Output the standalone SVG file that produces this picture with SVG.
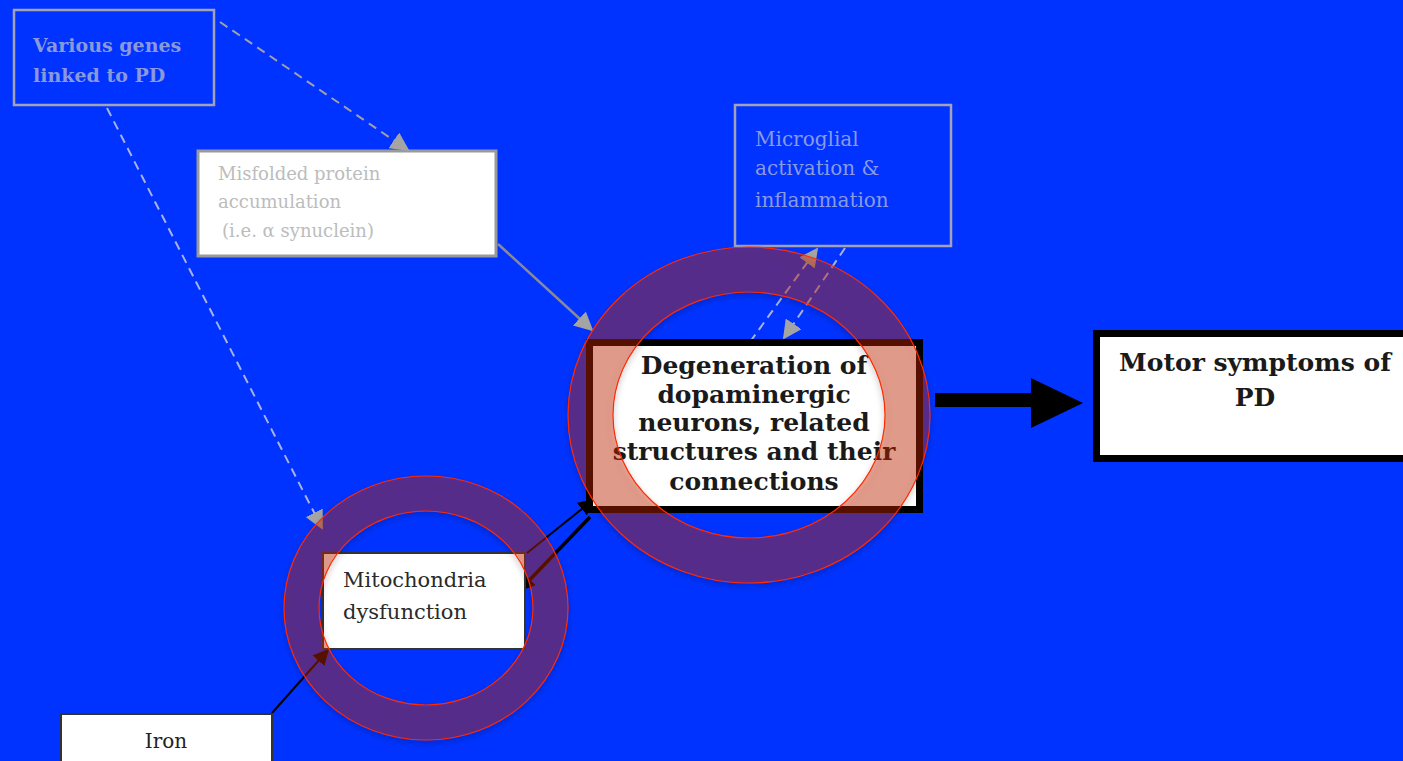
<svg xmlns="http://www.w3.org/2000/svg" width="1403" height="761" viewBox="0 0 1403 761">
<defs>
<style>
.t{font-family:"DejaVu Serif","Liberation Serif",serif}
.b{font-weight:bold}
.ring{fill:#ca2300;fill-opacity:0.38;fill-rule:evenodd;stroke:#ff2a00;stroke-width:1.2}
.dash{fill:none;stroke-dasharray:9 6;stroke-width:2}
</style>
<marker id="ag2" viewBox="0 0 10 10" refX="9" refY="5" markerWidth="19" markerHeight="19" orient="auto" markerUnits="userSpaceOnUse"><path d="M0,0L10,5L0,10z" fill="#a4a4a4"/></marker>
<marker id="ab" viewBox="0 0 10 10" refX="9" refY="5" markerWidth="16" markerHeight="16" orient="auto" markerUnits="userSpaceOnUse"><path d="M0,0L10,5L0,10z" fill="#000"/></marker>
<filter id="sh" x="-20%" y="-20%" width="140%" height="140%"><feGaussianBlur in="SourceAlpha" stdDeviation="3"/><feOffset dx="0" dy="3"/><feComponentTransfer><feFuncA type="linear" slope="0.35"/></feComponentTransfer><feMerge><feMergeNode/><feMergeNode in="SourceGraphic"/></feMerge></filter>
</defs>
<rect width="1403" height="761" fill="#0033ff"/>

<g id="genes">
<rect x="14" y="10" width="200" height="95" fill="none" stroke="#a2a2b8" stroke-width="2.5"/>
<text class="t b" x="33" y="52" font-size="19" fill="#8a98dc">Various genes</text>
<text class="t b" x="33" y="82" font-size="19" fill="#8a98dc">linked to PD</text>
</g>

<g id="misfolded">
<rect x="198" y="151" width="298" height="105" fill="#fff" stroke="#9a9a9a" stroke-width="3"/>
<text class="t" x="218" y="180" font-size="18" fill="#bcbcbc">Misfolded protein</text>
<text class="t" x="218" y="208" font-size="18" fill="#bcbcbc">accumulation</text>
<text class="t" x="222" y="237" font-size="18" fill="#bcbcbc">(i.e. α synuclein)</text>
</g>

<g id="microglial">
<rect x="735" y="105" width="216" height="141" fill="none" stroke="#a2a2b8" stroke-width="2.5"/>
<text class="t" x="755" y="146" font-size="20" fill="#8a9ae0">Microglial</text>
<text class="t" x="755" y="175" font-size="20" fill="#8a9ae0">activation &amp;</text>
<text class="t" x="755" y="207" font-size="20" fill="#8a9ae0">inflammation</text>
</g>

<g id="connectors">
<line x1="220" y1="22" x2="408" y2="150" stroke="#a0a0a8" class="dash" marker-end="url(#ag2)"/>
<line x1="107" y1="108" x2="322" y2="528" stroke="#a8b2e0" class="dash" marker-end="url(#ag2)"/>
<line x1="498" y1="244" x2="592" y2="330" stroke="#8a8a9a" stroke-width="2.5" marker-end="url(#ag2)"/>
<line x1="750" y1="342" x2="817" y2="249" stroke="#a8b2e0" class="dash" marker-end="url(#ag2)"/>
<line x1="845" y1="248" x2="784" y2="338" stroke="#a8b2e0" class="dash" marker-end="url(#ag2)"/>
<line x1="527" y1="553" x2="593" y2="500" stroke="#000" stroke-width="2" marker-end="url(#ab)"/>
<line x1="590" y1="517" x2="520" y2="590" stroke="#000" stroke-width="3.5" marker-end="url(#ab)"/>
<line x1="272" y1="713" x2="328" y2="650" stroke="#000" stroke-width="2" marker-end="url(#ab)"/>
<path d="M935,393H1031V378L1083,403L1031,428V407H935z" fill="#000"/>
</g>

<g id="degeneration">
<rect x="589.5" y="342.5" width="330" height="167" fill="#fff" stroke="#000" stroke-width="7"/>
<g class="t b" font-size="25" fill="#1a1a1a" text-anchor="middle">
<text x="754" y="374">Degeneration of</text>
<text x="754" y="403">dopaminergic</text>
<text x="754" y="431">neurons, related</text>
<text x="754" y="460">structures and their</text>
<text x="754" y="490">connections</text>
</g>
</g>

<g id="mitochondria">
<rect x="323" y="553" width="202" height="96" fill="#fff" stroke="#333" stroke-width="2"/>
<text class="t" x="343" y="587" font-size="21" fill="#2a2a2a">Mitochondria</text>
<text class="t" x="343" y="619" font-size="21" fill="#2a2a2a">dysfunction</text>
</g>

<g id="motor">
<rect x="1096.5" y="333.5" width="320" height="125" fill="#fff" stroke="#000" stroke-width="7"/>
<text class="t b" x="1255" y="371" font-size="25" fill="#1a1a1a" text-anchor="middle">Motor symptoms of</text>
<text class="t b" x="1255" y="406" font-size="25" fill="#1a1a1a" text-anchor="middle">PD</text>
</g>

<g id="iron">
<rect x="61" y="714" width="211" height="60" fill="#fff" stroke="#333" stroke-width="2"/>
<text class="t" x="166" y="748" font-size="20" fill="#222" text-anchor="middle">Iron</text>
</g>

<g id="rings" filter="url(#sh)">
<path class="ring" d="M568,415a181,168 0 1,0 362,0a181,168 0 1,0 -362,0ZM613,415a136,123 0 1,0 272,0a136,123 0 1,0 -272,0Z"/>
<path class="ring" d="M284,608a142,132 0 1,0 284,0a142,132 0 1,0 -284,0ZM319,608a107,97 0 1,0 214,0a107,97 0 1,0 -214,0Z"/>
</g>
</svg>
